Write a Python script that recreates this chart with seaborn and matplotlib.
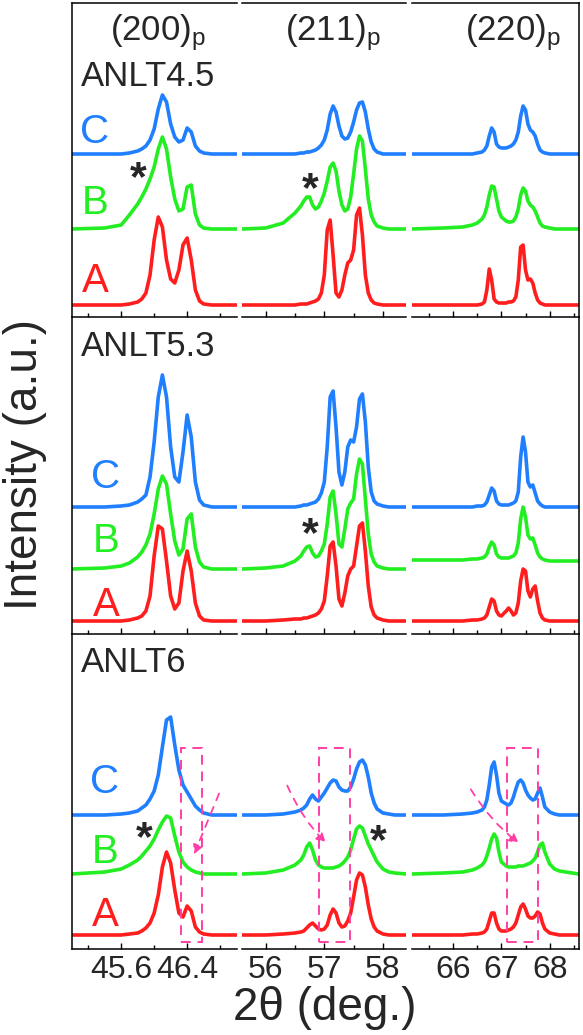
import numpy as np
import pandas as pd
import matplotlib
matplotlib.use("Agg")
import matplotlib.pyplot as plt
import seaborn as sns
from matplotlib.patches import Rectangle, FancyArrowPatch
from matplotlib.ticker import FixedLocator, NullFormatter

# ---------------- data (intensity in arbitrary units above each baseline) -------------
samples = ["C", "B", "A"]
rows = ["ANLT4.5", "ANLT5.3", "ANLT6"]
peaks = ["(200)$_\\mathrm{p}$", "(211)$_\\mathrm{p}$", "(220)$_\\mathrm{p}$"]

X200 = [45.0, 45.4, 45.6, 45.7, 45.8, 45.85, 45.9, 45.95, 46.0, 46.05, 46.1, 46.15,
        46.2, 46.25, 46.3, 46.35, 46.4, 46.45, 46.5, 46.55, 46.6, 46.7, 47.0]
X211 = [55.6, 56.0, 56.3, 56.5, 56.6, 56.65, 56.7, 56.75, 56.8, 56.85, 56.9, 56.95,
        57.0, 57.05, 57.1, 57.15, 57.2, 57.25, 57.3, 57.35, 57.4, 57.45, 57.5, 57.55,
        57.6, 57.65, 57.7, 57.75, 57.8, 57.85, 57.9, 58.0, 58.1, 58.2, 58.4]
X220 = [65.15, 65.8, 66.2, 66.4, 66.5, 66.6, 66.65, 66.7, 66.75, 66.8, 66.85, 66.9,
        66.95, 67.0, 67.1, 67.15, 67.2, 67.25, 67.3, 67.35, 67.4, 67.45, 67.5, 67.55,
        67.6, 67.65, 67.7, 67.75, 67.8, 67.85, 67.9, 68.0, 68.1, 68.2, 68.6]

# ANLT4.5
T45_C_200 = [0, 0, 0, 1, 3, 5, 8, 14, 25, 45, 59, 52, 30, 17, 12, 14, 26, 22, 8, 3, 1, 0, 0]
T45_B_200 = [0, 1, 4, 14, 25, 32, 40, 50, 62, 80, 92, 80, 52, 30, 18, 20, 42, 44, 15, 4, 1, 0, 0]
T45_A_200 = [0, 0, 0, 1, 3, 6, 12, 30, 65, 88, 78, 45, 26, 22, 35, 60, 67, 45, 15, 4, 1, 0, 0]
T45_C_211 = [0, 0, 0, 0, 1, 1, 2, 2, 3, 4, 6, 9, 14, 24, 40, 48, 42, 28, 18, 15, 16, 22, 32, 44,
             51, 52, 42, 25, 12, 5, 2, 0, 0, 0, 0]
T45_B_211 = [0, 1, 6, 16, 23, 28, 32, 32, 24, 20, 22, 28, 36, 48, 62, 66, 58, 38, 24, 18, 20, 32, 55, 80,
             93, 88, 60, 30, 14, 7, 3, 1, 0, 0, 0]
T45_A_211 = [0, 0, 0, 0, 1, 1, 1, 2, 3, 4, 6, 12, 30, 75, 85, 50, 12, 8, 15, 30, 42, 45, 55, 90,
             97, 70, 30, 12, 5, 2, 1, 0, 0, 0, 0]
T45_C_220 = [0, 0, 0, 0, 1, 2, 4, 8, 18, 26, 22, 10, 7, 6, 6, 7, 8, 10, 14, 22, 38, 48, 44, 30,
             24, 22, 18, 10, 4, 2, 1, 0, 0, 0, 0]
T45_B_220 = [0, 1, 2, 4, 6, 10, 14, 22, 34, 43, 42, 30, 18, 12, 8, 7, 7, 8, 12, 20, 34, 41, 38, 28,
             24, 22, 18, 12, 6, 3, 2, 1, 0, 0, 0]
T45_A_220 = [0, 0, 0, 0, 0, 1, 3, 15, 36, 25, 6, 3, 2, 2, 2, 3, 3, 4, 8, 25, 58, 60, 35, 25,
             26, 22, 12, 5, 2, 1, 0, 0, 0, 0, 0]
# ANLT5.3
T53_C_200 = [0, 0, 1, 2, 5, 8, 12, 30, 65, 110, 132, 110, 60, 30, 25, 55, 92, 70, 25, 7, 2, 0, 0]
T53_B_200 = [0, 1, 3, 6, 12, 17, 24, 35, 55, 80, 93, 85, 55, 28, 14, 20, 50, 55, 22, 7, 2, 0, 0]
T53_A_200 = [0, 0, 0, 1, 3, 5, 10, 25, 65, 95, 92, 60, 25, 12, 18, 50, 70, 50, 18, 5, 1, 0, 0]
T53_C_211 = [0, 0, 0, 0, 1, 2, 2, 3, 4, 5, 8, 14, 25, 60, 110, 116, 80, 35, 22, 35, 60, 67, 65, 80,
             108, 113, 85, 40, 15, 6, 3, 1, 0, 0, 0]
T53_B_211 = [0, 1, 3, 8, 13, 18, 22, 23, 16, 12, 13, 18, 25, 45, 72, 78, 55, 25, 22, 40, 60, 66, 70, 95,
             110, 105, 70, 35, 15, 7, 3, 1, 0, 0, 0]
T53_A_211 = [0, 0, 1, 2, 2, 3, 3, 4, 5, 6, 8, 12, 20, 45, 75, 79, 55, 22, 15, 28, 45, 52, 55, 75,
             95, 98, 70, 35, 14, 6, 3, 1, 0, 0, 0]
T53_C_220 = [0, 0, 0, 0, 1, 1, 2, 5, 12, 19, 16, 6, 3, 2, 2, 2, 3, 4, 6, 15, 50, 70, 55, 25,
             20, 22, 14, 6, 3, 1, 0, 0, 0, 0, 0]
T53_B_220 = [9, 9, 9, 10, 10, 11, 12, 15, 22, 27, 24, 15, 12, 11, 11, 11, 12, 13, 16, 26, 50, 62, 52, 34,
             30, 31, 24, 16, 12, 10, 9, 8, 8, 8, 8]
T53_A_220 = [0, 0, 0, 1, 1, 2, 3, 6, 14, 22, 20, 10, 6, 5, 10, 13, 10, 6, 8, 18, 40, 52, 50, 30,
             24, 32, 35, 20, 8, 3, 1, 0, 0, 0, 0]
# ANLT6
T6_C_200 = [0, 0, 1, 2, 4, 7, 10, 16, 24, 40, 68, 95, 98, 70, 45, 30, 23, 16, 9, 5, 2, 0, 0]
T6_B_200 = [0, 2, 5, 9, 14, 18, 23, 28, 35, 44, 52, 58, 56, 38, 22, 12, 7, 4, 2, 1, 0, 0, 0]
T6_A_200 = [0, 0, 0, 1, 2, 4, 7, 12, 22, 40, 68, 83, 72, 45, 22, 18, 29, 24, 8, 3, 1, 0, 0]
T6_C_211 = [0, 0, 1, 3, 5, 7, 10, 16, 20, 16, 14, 18, 22, 27, 32, 35, 34, 28, 25, 24, 24, 28, 36, 46,
            53, 55, 50, 38, 22, 12, 6, 2, 1, 0, 0]
T6_B_211 = [0, 1, 4, 9, 14, 19, 27, 31, 24, 14, 9, 7, 6, 6, 6, 6, 7, 8, 10, 13, 17, 24, 35, 45,
            48, 46, 38, 30, 24, 18, 12, 5, 2, 1, 0]
T6_A_211 = [0, 0, 1, 2, 3, 4, 7, 10, 12, 9, 6, 5, 6, 10, 20, 26, 22, 12, 8, 9, 14, 22, 38, 55,
            62, 60, 48, 30, 16, 8, 4, 1, 0, 0, 0]
T6_C_220 = [0, 0, 1, 2, 3, 5, 8, 15, 30, 48, 53, 40, 22, 14, 11, 10, 12, 18, 26, 33, 35, 32, 25, 20,
            17, 15, 16, 22, 27, 18, 8, 3, 1, 0, 0]
T6_B_220 = [0, 1, 2, 4, 6, 9, 12, 18, 26, 35, 40, 36, 22, 12, 8, 7, 7, 7, 7, 8, 8, 8, 9, 10,
            11, 13, 16, 22, 29, 31, 22, 10, 5, 3, 0]
T6_A_220 = [0, 0, 0, 1, 1, 2, 3, 6, 14, 22, 22, 12, 6, 4, 4, 5, 6, 8, 12, 20, 28, 31, 26, 19,
            17, 17, 19, 23, 21, 12, 6, 2, 1, 0, 0]

xgrids = [X200, X211, X220]
curves = [
    [[T45_C_200, T45_B_200, T45_A_200], [T45_C_211, T45_B_211, T45_A_211], [T45_C_220, T45_B_220, T45_A_220]],
    [[T53_C_200, T53_B_200, T53_A_200], [T53_C_211, T53_B_211, T53_A_211], [T53_C_220, T53_B_220, T53_A_220]],
    [[T6_C_200, T6_B_200, T6_A_200], [T6_C_211, T6_B_211, T6_A_211], [T6_C_220, T6_B_220, T6_A_220]],
]
xlims = [(45.0, 47.0), (55.6, 58.4), (65.15, 68.6)]
major_ticks = [[45.6, 46.4], [56, 57, 58], [66, 67, 68]]
minor_ticks = [[45.2, 46.0, 46.8], [56.5, 57.5], [65.5, 66.5, 67.5, 68.5]]
major_labels = [["45.6", "46.4"], ["56", "57", "58"], ["66", "67", "68"]]

# ---------------- styling / layout ----------------
sns.set_theme(style="white")
plt.rcParams['font.family'] = ['Liberation Sans', 'DejaVu Sans']
plt.rcParams['mathtext.fontset'] = 'custom'
plt.rcParams['mathtext.rm'] = 'Liberation Sans'
plt.rcParams['mathtext.it'] = 'Liberation Sans:italic'

W, H = 583, 1035
fig = plt.figure(figsize=(W / 100, H / 100), dpi=100)
colors = {"C": "#1f7fff", "B": "#22ee22", "A": "#ff1d1d"}
pink = "#ff3fa6"

col_px = [(71.7, 236.6), (242.2, 406.4), (411.9, 578.7)]
row_px = [(3, 317), (317, 634), (634, 949)]
# baseline offsets (pixel units above each row's bottom) for C, B, A
offsets = [[163, 88, 12], [127, 65, 13], [134, 75, 14]]


def fx(x):
    return x / W


def fy(y):
    return 1 - y / H


axes = [[None] * 3 for _ in range(3)]
for r, (y0, y1) in enumerate(row_px):
    for c, (x0, x1) in enumerate(col_px):
        ax = fig.add_axes([fx(x0), fy(y1), (x1 - x0) / W, (y1 - y0) / H])
        axes[r][c] = ax
        ax.set_facecolor("none")
        for k, s in enumerate(samples):
            df = pd.DataFrame({"x": xgrids[c],
                               "y": np.array(curves[r][c][k], dtype=float) + offsets[r][k]})
            sns.lineplot(data=df, x="x", y="y", ax=ax, color=colors[s], lw=2.6,
                         legend=False, sort=True, estimator=None)
        ax.set_xlim(*xlims[c])
        ax.set_ylim(0, y1 - y0)
        ax.set_xlabel("")
        ax.set_ylabel("")
        ax.set_yticks([])
        ax.xaxis.set_major_locator(FixedLocator(major_ticks[c]))
        ax.xaxis.set_minor_locator(FixedLocator(minor_ticks[c]))
        if r == 2:
            ax.set_xticklabels(major_labels[c])
        else:
            ax.xaxis.set_major_formatter(NullFormatter())
        ax.xaxis.set_minor_formatter(NullFormatter())
        ax.tick_params(axis="x", which="major", direction="in", length=4.5, width=1.0,
                       color="black", labelsize=23, pad=4, bottom=True, top=False)
        ax.tick_params(axis="x", which="minor", direction="in", length=2.8, width=1.0,
                       color="black", bottom=True, top=False)
        for sp in ax.spines.values():
            sp.set_color("black")
            sp.set_linewidth(1.1)
        ax.spines["top"].set_visible(r == 0)
        ax.spines["left"].set_visible(c == 0)
        ax.spines["right"].set_visible(c == 2)
        ax.spines["bottom"].set_visible(True)

# ---------------- texts ----------------
hkl_x = [110, 285, 465]
for c, t in enumerate(peaks):
    fig.text(fx(hkl_x[c]), fy(33), t, fontsize=25, ha="left", va="center")

row_label_y = [76, 346, 662]
for r, t in enumerate(rows):
    fig.text(fx(81), fy(row_label_y[r]), t, fontsize=25, ha="left", va="center")

letter_x = [95, 106, 105]
letter_y = [[132, 203, 281], [477, 541, 605], [782, 852, 915]]
for r in range(3):
    for k, s in enumerate(samples):
        fig.text(fx(letter_x[r]), fy(letter_y[r][k]), s, fontsize=29, color=colors[s],
                 ha="center", va="center")

stars = [(138, 172), (310, 183), (310, 528), (144, 832), (378, 835)]
for (sx, sy) in stars:
    fig.text(fx(sx), fy(sy + 7), "*", fontsize=31, fontweight="bold", ha="center", va="center")

fig.text(fx(325), fy(1008), "2θ (deg.)", fontsize=33, ha="center", va="center")
fig.text(fx(25), fy(464), "Intensity (a.u.)", fontsize=33, rotation=90, ha="center", va="center")

# ---------------- pink dashed annotations (ANLT6 row) ----------------
boxes = [(0, 46.32, 46.58), (1, 56.91, 57.43), (2, 67.12, 67.76)]
for c, xa, xb in boxes:
    ax = axes[2][c]
    ax.add_patch(Rectangle((xa, 7), xb - xa, 194, fill=False, ec=pink, lw=1.4,
                           ls=(0, (5, 3.5)), clip_on=False, zorder=5))
arrows = [(0, (46.8, 158), (46.47, 92), 0.0), (1, (56.35, 166), (57.06, 104), 0.1),
          (2, (66.34, 162), (67.41, 104), 0.1)]
for c, pa, pb, rad in arrows:
    ax = axes[2][c]
    ar = FancyArrowPatch(pa, pb, arrowstyle="-|>", mutation_scale=14, color=pink, lw=1.3,
                         ls=(0, (4, 4)), connectionstyle=f"arc3,rad={rad}", clip_on=False, zorder=6)
    ax.add_patch(ar)

fig.savefig("out.png", dpi=100)
